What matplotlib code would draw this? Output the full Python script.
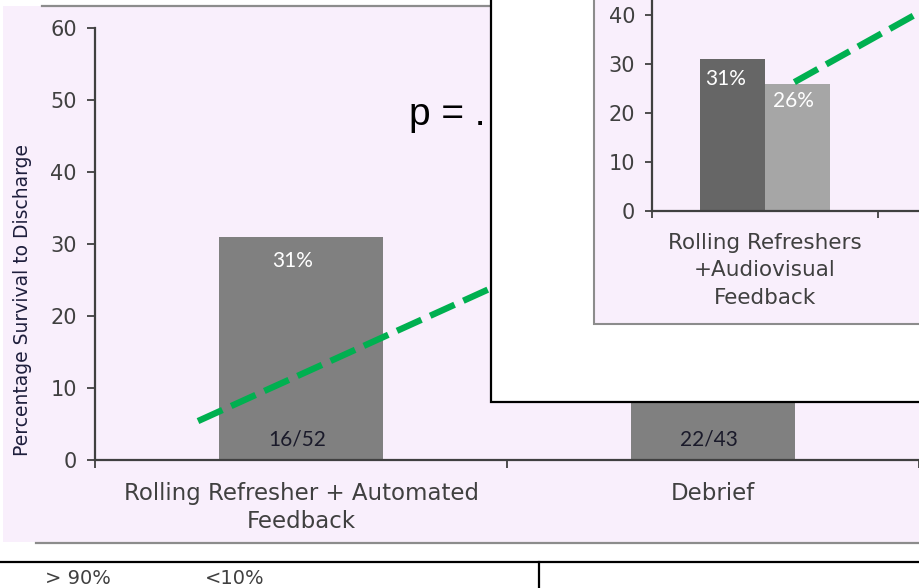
import matplotlib
matplotlib.use("Agg")
import matplotlib.pyplot as plt
from matplotlib.patches import Rectangle
import numpy as np

# ---------------- data ----------------
main_categories = ["Rolling Refresher + Automated\nFeedback", "Debrief"]
main_values = [31, 51]
main_pct_labels = ["31%", "51%"]
main_counts = ["16/52", "22/43"]
main_yticks = [0, 10, 20, 30, 40, 50, 60]
main_trend_x = [-0.25, 1.0]
main_trend_y = [5.4, 37.8]

inset_categories = ["Rolling Refreshers\n+Audiovisual\nFeedback"]
inset_series1 = [31]
inset_series2 = [26]
inset_labels1 = ["31%"]
inset_labels2 = ["26%"]
inset_yticks = [0, 10, 20, 30, 40]
inset_trend_x = [0.13, 1.0]
inset_trend_y = [26.3, 48.7]

p_text = "p = ."
table_labels = ["> 90%", "<10%"]
ylabel = "Percentage Survival to Discharge"

# ---------------- style ----------------
W, H = 919, 588
LAV = "#F9EFFC"
AXC = "#404040"
GREEN = "#00B050"
FONT = ["DejaVu Sans"]
plt.rcParams["font.family"] = FONT
NUMFONT = ["Lato", "DejaVu Sans"]


def px(x0, y0, x1, y1):
    return [x0 / W, 1 - y1 / H, (x1 - x0) / W, (y1 - y0) / H]


fig = plt.figure(figsize=(W / 100, H / 100), dpi=100)
fig.patch.set_facecolor("white")

# background decorations (slide)
bg = fig.add_axes([0, 0, 1, 1], zorder=0)
bg.set_xlim(0, W)
bg.set_ylim(H, 0)
bg.axis("off")
bg.add_patch(Rectangle((3, 6), W, 536, facecolor=LAV, edgecolor="none"))
bg.plot([42, W], [5.5, 5.5], color="#8c8c8c", lw=1.6)
bg.plot([36, W], [543, 543], color="#8c8c8c", lw=1.6)
bg.plot([0, W], [561.5, 561.5], color="black", lw=1.6)
bg.plot([539, 539], [561.5, H], color="black", lw=1.6)
bg.text(45, 579, table_labels[0], fontsize=14, color="#404040", va="center", ha="left")
bg.text(205, 579, table_labels[1], fontsize=14, color="#404040", va="center", ha="left")

# ---------------- main axes ----------------
ax = fig.add_axes(px(95, 27.5, 919, 460), zorder=2)
ax.patch.set_alpha(0)
x = np.arange(len(main_categories))
ax.bar(x, main_values, width=0.4, color="#808080", zorder=2)
for xi, v, lab, cnt in zip(x, main_values, main_pct_labels, main_counts):
    ax.text(xi - 0.02, v - 3.4, lab, color="white", ha="center", va="center",
            fontsize=15, family=NUMFONT, zorder=3)
    ax.text(xi - 0.01, 2.8, cnt, color="#1a1a2a", ha="center", va="center",
            fontsize=15, family=NUMFONT, zorder=3)
ax.plot(main_trend_x, main_trend_y, color=GREEN, lw=4.6,
        linestyle=(0, (4.2, 1.5)), solid_capstyle="butt", dash_capstyle="butt", zorder=4)
ax.text(0.262, 47.8, p_text, fontsize=28, color="black", ha="left", va="center",
        family=["Liberation Sans", "DejaVu Sans"])

ax.set_xlim(-0.5, 1.5)
ax.set_ylim(0, 60)
ax.set_yticks(main_yticks)
ax.set_xticks([-0.5, 0.5, 1.5])
ax.set_xticklabels([])
ax.set_xticks(x, minor=True)
ax.set_xticklabels(main_categories, minor=True, fontsize=16.5, color=AXC,
                   linespacing=1.26)
ax.tick_params(axis="x", which="minor", length=0, pad=16)
ax.tick_params(axis="x", which="major", length=6, width=1.3, color=AXC, direction="out")
ax.tick_params(axis="y", length=6, width=1.3, color=AXC, labelsize=15,
               labelcolor=AXC, pad=7)
for s in ["top", "right"]:
    ax.spines[s].set_visible(False)
for s in ["left", "bottom"]:
    ax.spines[s].set_color(AXC)
    ax.spines[s].set_linewidth(1.6)
ax.set_ylabel(ylabel, fontsize=13.5, color="#1e1e3c")
ax.yaxis.set_label_coords(-0.077, 0.37)

# ---------------- inset overlay ----------------
ov = fig.add_axes([0, 0, 1, 1], zorder=5)
ov.set_xlim(0, W)
ov.set_ylim(H, 0)
ov.axis("off")
ov.patch.set_alpha(0)
ov.add_patch(Rectangle((490.5, -20), 500, 421.5, facecolor="white",
                       edgecolor="black", lw=1.6))
ov.add_patch(Rectangle((593.5, -20), 400, 343.5, facecolor=LAV,
                       edgecolor="#8c8c8c", lw=1.5))

ia = fig.add_axes(px(652, 211 - 49 * 6, 652 + 452, 211), zorder=6)
ia.patch.set_alpha(0)
xi = np.arange(len(inset_categories))
bw = 0.288
ia.bar(xi - bw / 2, inset_series1, width=bw, color="#666666", zorder=2)
ia.bar(xi + bw / 2, inset_series2, width=bw, color="#a6a6a6", zorder=2)
for k in range(len(xi)):
    ia.text(xi[k] - bw / 2 - 0.03, inset_series1[k] - 4, inset_labels1[k], color="white",
            ha="center", va="center", fontsize=15, family=NUMFONT, zorder=3)
    ia.text(xi[k] + bw / 2 - 0.02, inset_series2[k] - 3.5, inset_labels2[k], color="white",
            ha="center", va="center", fontsize=15, family=NUMFONT, zorder=3)
ia.plot(inset_trend_x, inset_trend_y, color=GREEN, lw=4.6,
        linestyle=(0, (4.2, 1.5)), solid_capstyle="butt", dash_capstyle="butt", zorder=4)
ia.set_xlim(-0.5, 1.5)
ia.set_ylim(0, 60)
ia.set_yticks(inset_yticks)
ia.set_xticks([-0.5, 0.5, 1.5])
ia.set_xticklabels([])
ia.set_xticks(xi, minor=True)
ia.set_xticklabels(inset_categories, minor=True, fontsize=15.5, color=AXC,
                   linespacing=1.45)
ia.tick_params(axis="x", which="minor", length=0, pad=16)
ia.tick_params(axis="x", which="major", length=5, width=1.3, color=AXC, direction="out")
ia.tick_params(axis="y", length=5, width=1.3, color=AXC, labelsize=15,
               labelcolor=AXC, pad=7)
for s in ["top", "right"]:
    ia.spines[s].set_visible(False)
for s in ["left", "bottom"]:
    ia.spines[s].set_color(AXC)
    ia.spines[s].set_linewidth(1.6)

fig.savefig("out.png", dpi=100)
